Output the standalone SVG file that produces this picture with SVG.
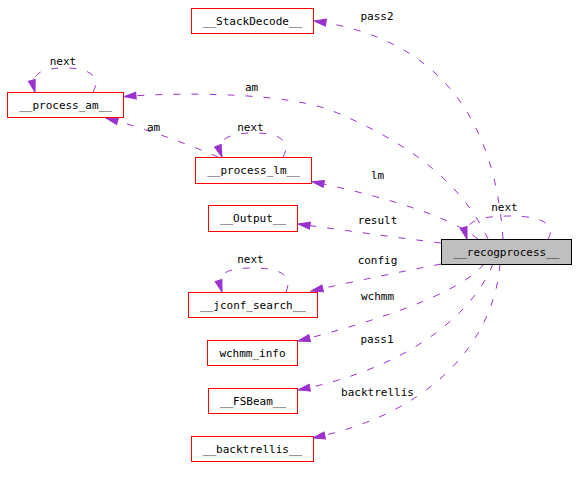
<svg xmlns="http://www.w3.org/2000/svg" width="576" height="477" viewBox="0 0 576 477">
<style>
text{font-family:"DejaVu Sans Mono","Liberation Mono",monospace;font-size:11px;fill:#000;text-anchor:middle}
.n rect{fill:#fff;stroke:#ff0000;stroke-width:1}
.e path{fill:none;stroke:#9a32cd;stroke-width:1;stroke-dasharray:7,11;marker-end:url(#a)}
</style>
<defs>
<marker id="a" markerUnits="userSpaceOnUse" markerWidth="12" markerHeight="8" refX="12" refY="4" orient="auto" overflow="visible">
<path d="M0,0.5 L12,4 L0,7.5 z" fill="#9a32cd" stroke="#9a32cd" stroke-width="1"/>
</marker>
</defs>
<rect width="576" height="477" fill="#fff"/>
<g id="edges" class="e">
<path d="M503,239 C495,120 440,38 314,21"/>
<path d="M488,239 C470,200 430,150 330,110 C290,95 200,91 124,96.5"/>
<path d="M548,239 C556,226 545,216 510,216 C478,216 462,222 467,239"/>
<path d="M478,239 C455,220 400,200 312,181.5"/>
<path d="M441,243 C400,238 350,231 298,224"/>
<path d="M441,264 C400,272 360,280 311,291"/>
<path d="M484,264 C465,288 400,315 298,341"/>
<path d="M493,264 C470,320 400,370 298,390"/>
<path d="M500,264 C495,330 445,410 313,438"/>
<path d="M218,157 C190,145 150,130 106,118"/>
<path d="M93,92 C101,78 92,68 65,68 C40,68 30,74 35,92"/>
<path d="M283,157 C290,145 285,133 255,133 C230,133 215,138 222,157"/>
<path d="M286,292 C292,278 285,268 253,268 C228,268 216,272 222,292"/>
</g>
<g id="labels">
<text x="377" y="20">pass2</text>
<text x="251.5" y="91">am</text>
<text x="504.5" y="211">next</text>
<text x="377.5" y="179">lm</text>
<text x="377.5" y="224">result</text>
<text x="377.5" y="264">config</text>
<text x="377.5" y="300">wchmm</text>
<text x="377" y="343">pass1</text>
<text x="377.5" y="396">backtrellis</text>
<text x="153.5" y="131">am</text>
<text x="63" y="65">next</text>
<text x="250.5" y="131">next</text>
<text x="250.5" y="263">next</text>
</g>
<g id="n_recogprocess"><rect x="441.5" y="239.5" width="130" height="25" fill="#bfbfbf" stroke="#000"/><text x="506.5" y="256">__recogprocess__</text></g>
<g id="n_StackDecode" class="n"><rect x="191.5" y="8.5" width="122" height="25"/><text x="252.5" y="24.5">__StackDecode__</text></g>
<g id="n_process_am" class="n"><rect x="7.5" y="92.5" width="116" height="25"/><text x="65.5" y="108.5">__process_am__</text></g>
<g id="n_process_lm" class="n"><rect x="195.5" y="157.5" width="116" height="26"/><text x="253.5" y="174">__process_lm__</text></g>
<g id="n_Output" class="n"><rect x="208.5" y="205.5" width="89" height="26"/><text x="253" y="222">__Output__</text></g>
<g id="n_jconf_search" class="n"><rect x="188.5" y="292.5" width="129" height="25"/><text x="253" y="309">__jconf_search__</text></g>
<g id="n_wchmm_info" class="n"><rect x="207.5" y="340.5" width="90" height="25"/><text x="252.5" y="357">wchmm_info</text></g>
<g id="n_FSBeam" class="n"><rect x="208.5" y="388.5" width="89" height="25"/><text x="253" y="405">__FSBeam__</text></g>
<g id="n_backtrellis" class="n"><rect x="191.5" y="436.5" width="122" height="25"/><text x="252.5" y="453">__backtrellis__</text></g>
</svg>
